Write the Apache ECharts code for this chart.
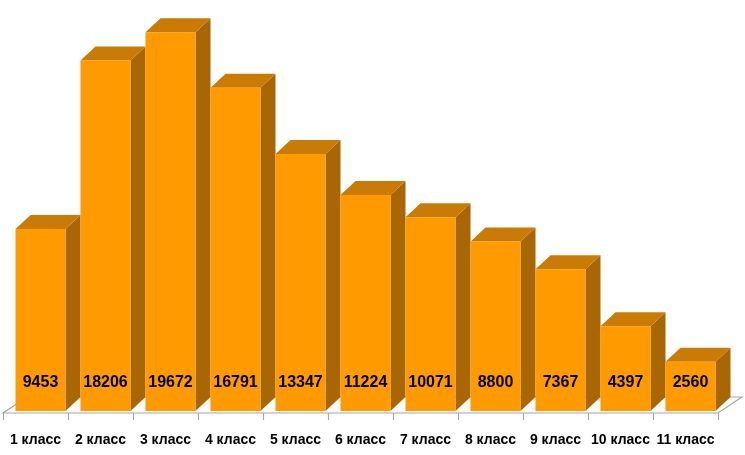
<!DOCTYPE html>
<html>
<head>
<meta charset="utf-8">
<script src="https://cdn.jsdelivr.net/npm/echarts@6/dist/echarts.min.js"></script>
<style>html,body{margin:0;padding:0;background:#fff;}#c{width:745px;height:455px;}</style>
</head>
<body>
<div id="c"></div>
<script>
var categories = ['1 класс','2 класс','3 класс','4 класс','5 класс','6 класс','7 класс','8 класс','9 класс','10 класс','11 класс'];
var values = [9453, 18206, 19672, 16791, 13347, 11224, 10071, 8800, 7367, 4397, 2560];

var FRONT = '#FF9A00', TOP = '#C97B06', SIDE = '#A86604';
var DX = 15, DY = -14;

var chart = echarts.init(document.getElementById('c'), null, {renderer: 'canvas'});

function renderFloor(params, api) {
  var n = categories.length;
  var bw = api.size([1, 0])[0];
  var c0 = api.coord([0, 0]);
  var left = c0[0] - bw / 2;
  var right = left + bw * n;
  var y = c0[1] + 2;
  var fdx = 24, fdy = -16;
  var children = [{
    type: 'polygon',
    shape: {points: [[left, y], [right, y], [right + fdx, y + fdy], [left + fdx, y + fdy]]},
    style: {fill: '#fbfbfb', stroke: '#a8a8a8', lineWidth: 1.2}
  }];
  for (var i = 0; i <= n; i++) {
    var x = Math.round(left + bw * i) + 0.5;
    children.push({type: 'line', shape: {x1: x, y1: y, x2: x, y2: y + 7}, style: {stroke: '#a8a8a8', lineWidth: 1.2}});
  }
  return {type: 'group', children: children};
}

function renderBar(params, api) {
  var idx = api.value(0), val = api.value(1);
  var base = api.coord([idx, 0]);
  var top = api.coord([idx, val]);
  var bw = api.size([1, 0])[0];
  var fl = base[0] - bw / 2 + bw * (12.5 / 65);
  var fw = bw * (50 / 65);
  var fr = fl + fw;
  var yb = base[1], yt = top[1];
  return {
    type: 'group',
    children: [
      {type: 'polygon', shape: {points: [[fr, yb], [fr + DX, yb + DY], [fr + DX, yt + DY], [fr, yt]]}, style: {fill: SIDE}},
      {type: 'polygon', shape: {points: [[fl, yt], [fr, yt], [fr + DX, yt + DY], [fl + DX, yt + DY]]}, style: {fill: TOP}},
      {type: 'rect', shape: {x: fl, y: yt, width: fw, height: yb - yt}, style: {fill: FRONT}},
      {type: 'text', style: {text: String(values[idx]), x: fl + fw / 2, y: yb - 28, align: 'center', verticalAlign: 'middle',
        fill: '#000', font: 'bold 16px "Liberation Sans", Arial, sans-serif'}}
    ]
  };
}

chart.setOption({
  animation: false,
  grid: {left: 3, right: 27, top: 26, bottom: 44},
  xAxis: {
    type: 'category', data: categories, boundaryGap: true,
    axisLine: {show: false}, axisTick: {show: false},
    axisLabel: {color: '#000', fontWeight: 'bold', fontSize: 14, fontFamily: '"Liberation Sans", Arial, sans-serif', margin: 22, interval: 0}
  },
  yAxis: {type: 'value', min: 0, max: 20000, show: false, splitLine: {show: false}},
  series: [
    {type: 'custom', renderItem: renderFloor, data: [[0, 0]], silent: true, z: 1},
    {type: 'custom', renderItem: renderBar, data: values.map(function (v, i) { return [i, v]; }), z: 2}
  ]
});
</script>
</body>
</html>
